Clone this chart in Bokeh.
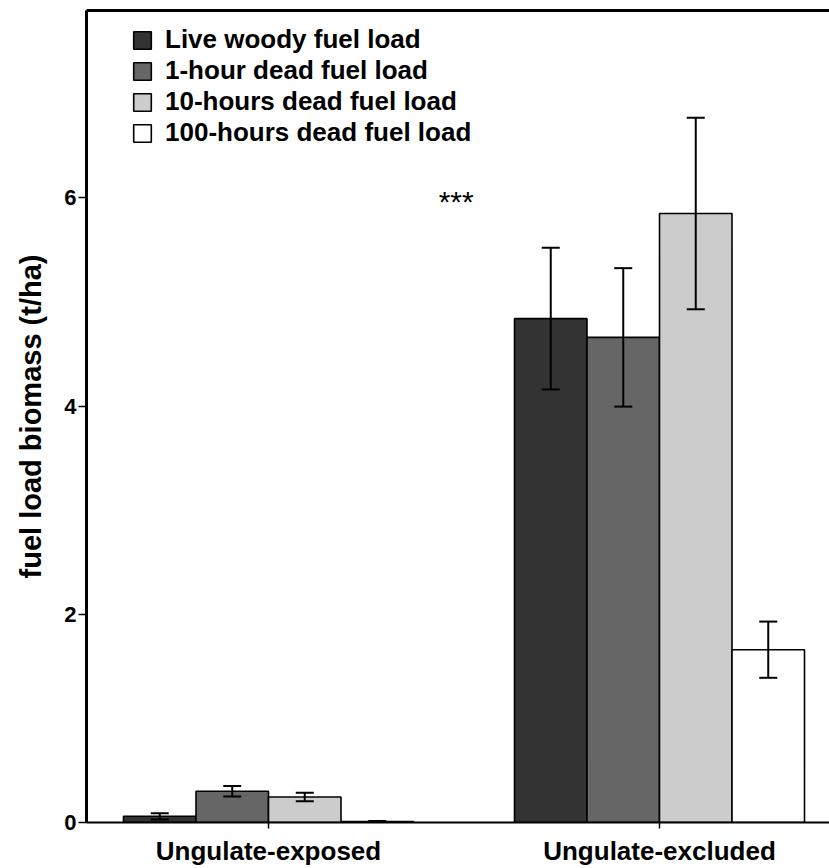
from bokeh.plotting import figure
from bokeh.models import (ColumnDataSource, Range1d, FixedTicker, LinearAxis, Whisker,
                          TeeHead, Legend, LegendItem, Label)
from bokeh.embed import file_html
from bokeh.resources import INLINE

# ---- data ----
groups = ["Ungulate-exposed", "Ungulate-excluded"]
series = ["Live woody fuel load", "1-hour dead fuel load",
          "10-hours dead fuel load", "100-hours dead fuel load"]
live_woody = [0.06, 4.84]
live_woody_err = [0.03, 0.68]
one_hour = [0.30, 4.66]
one_hour_err = [0.05, 0.665]
ten_hours = [0.245, 5.85]
ten_hours_err = [0.04, 0.92]
hundred_hours = [0.01, 1.66]
hundred_hours_err = [0.004, 0.27]
y_ticks = [0, 2, 4, 6]
significance = "***"

values = [live_woody, one_hour, ten_hours, hundred_hours]
errors = [live_woody_err, one_hour_err, ten_hours_err, hundred_hours_err]
colors = ["#333333", "#666666", "#cccccc", "#ffffff"]

FONT = "Liberation Sans"
W, H = 829, 868
left, top, bottom = 86, 10, 46
frame_w = W - left
group_px = 391.0
xs = -182.0 / group_px
x_range = Range1d(xs, xs + frame_w / group_px)
y_range = Range1d(0, 7.8)

p = figure(width=W, height=H, output_backend="svg", toolbar_location=None,
           x_range=x_range, y_range=y_range, x_axis_type=None, y_axis_type=None,
           min_border_left=left, min_border_top=top, min_border_bottom=bottom,
           min_border_right=0)
p.grid.visible = False
p.outline_line_color = None
p.background_fill_color = "white"
p.border_fill_color = "white"

bw = 72.5 / group_px
offsets = [-1.5 * bw, -0.5 * bw, 0.5 * bw, 1.5 * bw]
gx = list(range(len(groups)))

items = []
for i, name in enumerate(series):
    xpos = [g + offsets[i] for g in gx]
    src = ColumnDataSource(dict(
        x=xpos, top=values[i],
        upper=[v + e for v, e in zip(values[i], errors[i])],
        lower=[v - e for v, e in zip(values[i], errors[i])]))
    r = p.vbar(x="x", top="top", width=bw, bottom=0, source=src,
               fill_color=colors[i], line_color="black", line_width=1.6)
    items.append(LegendItem(label=name, renderers=[r]))
    wk = Whisker(base="x", upper="upper", lower="lower", source=src,
                 line_color="black", line_width=2, level="overlay",
                 upper_head=TeeHead(size=18, line_width=2, line_color="black"),
                 lower_head=TeeHead(size=18, line_width=2, line_color="black"))
    p.add_layout(wk)

# axes
yax = LinearAxis(ticker=FixedTicker(ticks=y_ticks))
yax.axis_label = "fuel load biomass (t/ha)"
yax.axis_label_text_font = FONT
yax.axis_label_text_font_style = "bold"
yax.axis_label_text_font_size = "29px"
yax.axis_label_text_color = "black"
yax.axis_label_standoff = 14
yax.axis_line_width = 3
yax.axis_line_color = "black"
yax.major_tick_out = 8
yax.major_tick_in = 0
yax.major_tick_line_width = 1.5
yax.minor_tick_line_color = None
yax.major_label_text_font = FONT
yax.major_label_text_font_style = "bold"
yax.major_label_text_font_size = "22px"
yax.major_label_standoff = 2
yax.major_label_text_color = "black"
p.add_layout(yax, "left")

xax = LinearAxis(ticker=FixedTicker(ticks=gx),
                 major_label_overrides={i: g for i, g in enumerate(groups)})
xax.axis_line_width = 2
xax.axis_line_color = "black"
xax.major_tick_out = 6
xax.major_tick_in = 0
xax.major_tick_line_width = 1.5
xax.minor_tick_line_color = None
xax.major_label_text_font = FONT
xax.major_label_text_font_style = "bold"
xax.major_label_text_font_size = "26px"
xax.major_label_standoff = 7
xax.major_label_text_color = "black"
p.add_layout(xax, "below")

tax = LinearAxis(ticker=FixedTicker(ticks=[]))
tax.axis_line_width = 3
tax.axis_line_color = "black"
tax.major_tick_line_color = None
tax.minor_tick_line_color = None
tax.major_tick_out = 0
tax.major_label_standoff = 0
tax.major_label_text_font_size = "0px"
p.add_layout(tax, "above")

p.add_layout(Label(x=0.48, y=5.97, text=significance, text_align="center",
                   text_baseline="middle", text_font=FONT, text_font_size="30px",
                   text_color="black"))

frame_h = H - top - bottom
legend = Legend(items=items, location=(45, frame_h - 138),
                glyph_width=22, glyph_height=22, label_height=22, spacing=0,
                padding=0, margin=0, label_standoff=12,
                label_text_font=FONT, label_text_font_style="bold",
                label_text_font_size="26px", label_text_color="black",
                background_fill_alpha=0, border_line_color=None)
p.add_layout(legend)

open("out.html", "w").write(file_html(p, INLINE))
